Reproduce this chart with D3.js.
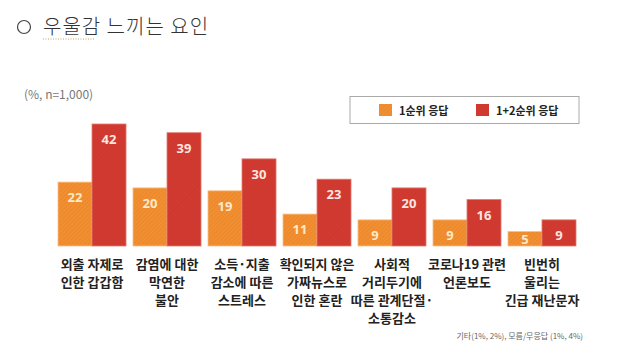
<!DOCTYPE html>
<html><head><meta charset="utf-8">
<script src="https://cdn.jsdelivr.net/npm/d3@7"></script>
<style>
html,body{margin:0;padding:0;background:#fff;}
svg{display:block;font-family:"Noto Sans CJK KR","Noto Sans",sans-serif;}
</style></head>
<body>
<svg id="chart" width="619" height="356"></svg>
<script>
const categories = [
  ["외출 자제로","인한 갑갑함"],
  ["감염에 대한","막연한","불안"],
  ["소득·지출","감소에 따른","스트레스"],
  ["확인되지 않은","가짜뉴스로","인한 혼란"],
  ["사회적","거리두기에","따른 관계단절·","소통감소"],
  ["코로나19 관련","언론보도"],
  ["빈번히","울리는","긴급 재난문자"]
];
const seriesNames = ["1순위 응답","1+2순위 응답"];
const first = [22,20,19,11,9,9,5];
const firstSecond = [42,39,30,23,20,16,9];
const colors = ["#ee8a2c","#d13a30"];
const labelColors = ["#fde9c9","#fde6e0"];

const svg = d3.select("#chart");
const defs = svg.append("defs");
colors.forEach((c,i)=>{
  const p = defs.append("pattern").attr("id","hatch"+i).attr("patternUnits","userSpaceOnUse")
    .attr("width",3).attr("height",3).attr("patternTransform","rotate(45)");
  p.append("rect").attr("width",3).attr("height",3).attr("fill",c);
  p.append("line").attr("x1",0).attr("y1",0).attr("x2",0).attr("y2",3)
    .attr("stroke", i===0 ? "#f6a552" : "#bf2f27").attr("stroke-width",1).attr("opacity",0.55);
});

// Title
svg.append("circle").attr("cx",24).attr("cy",27).attr("r",6.5).attr("fill","none").attr("stroke","#444").attr("stroke-width",1.2);
svg.append("text").attr("x",43).attr("y",34).attr("font-size",20).attr("fill","#333").attr("letter-spacing",1)
  .style("font-family","'Noto Sans CJK KR'").attr("font-weight",300).text("우울감 느끼는 요인");
svg.append("line").attr("x1",43).attr("x2",95).attr("y1",39).attr("y2",39)
  .attr("stroke","#c9a25a").attr("stroke-width",1).attr("stroke-dasharray","1,1.5");

svg.append("text").attr("x",24).attr("y",99).attr("font-size",12).attr("fill","#777").text("(%, n=1,000)");

// Scales
const x0 = d3.scaleBand().domain(d3.range(categories.length)).range([58,576]).paddingInner(0.093).paddingOuter(0.0);
const x1 = d3.scaleBand().domain([0,1]).range([0,x0.bandwidth()]);
const y = d3.scaleLinear().domain([0,42]).range([246,124]);

const data = categories.map((c,i)=>({i, vals:[first[i], firstSecond[i]]}));
const g = svg.append("g");
const groups = g.selectAll("g.grp").data(data).join("g").attr("class","grp")
  .attr("transform", d=>`translate(${x0(d.i)},0)`);
groups.selectAll("rect").data(d=>d.vals.map((v,k)=>({v,k}))).join("rect")
  .attr("x", d=>x1(d.k)).attr("width", x1.bandwidth())
  .attr("y", d=>y(d.v)).attr("height", d=>y(0)-y(d.v))
  .attr("fill", d=>`url(#hatch${d.k})`)
  .attr("stroke", d=>d.k===0?"#f8c089":"#e07a70").attr("stroke-width",0.8);
groups.selectAll("text.val").data(d=>d.vals.map((v,k)=>({v,k}))).join("text").attr("class","val")
  .attr("x", d=>x1(d.k)+x1.bandwidth()/2).attr("y", d=>Math.min(y(d.v)+20, y(0)-2))
  .attr("text-anchor","middle").attr("font-size",13).attr("font-weight",700)
  .style("font-family","'Noto Sans','DejaVu Sans',sans-serif")
  .attr("fill", d=>labelColors[d.k]).text(d=>d.v);

// Category labels
const lab = svg.append("g").selectAll("text").data(data).join("text")
  .attr("text-anchor","middle").attr("font-size",13).attr("font-weight",700).attr("fill","#222")
  .attr("transform", d=>`translate(${x0(d.i)+x0.bandwidth()/2},0)`);
lab.selectAll("tspan").data(d=>categories[d.i]).join("tspan")
  .attr("x",0).attr("y",(d,j)=>269+j*18).text(d=>d);

// Legend
const leg = svg.append("g");
leg.append("rect").attr("x",350).attr("y",96.5).attr("width",229).attr("height",27)
  .attr("fill","#fff").attr("stroke","#aaa").attr("stroke-width",1);
const legX = [379,476];
seriesNames.forEach((n,i)=>{
  leg.append("rect").attr("x",legX[i]).attr("y",104).attr("width",13).attr("height",12).attr("fill",`url(#hatch${i})`);
  leg.append("text").attr("x",legX[i]+20).attr("y",114.5).attr("font-size",11).attr("font-weight",700).attr("fill","#222").text(n);
});

// Footnote
svg.append("text").attr("x",583).attr("y",339).attr("text-anchor","end").attr("font-size",8).attr("fill","#666")
  .text("기타(1%, 2%), 모름/무응답 (1%, 4%)");
</script>
</body></html>
